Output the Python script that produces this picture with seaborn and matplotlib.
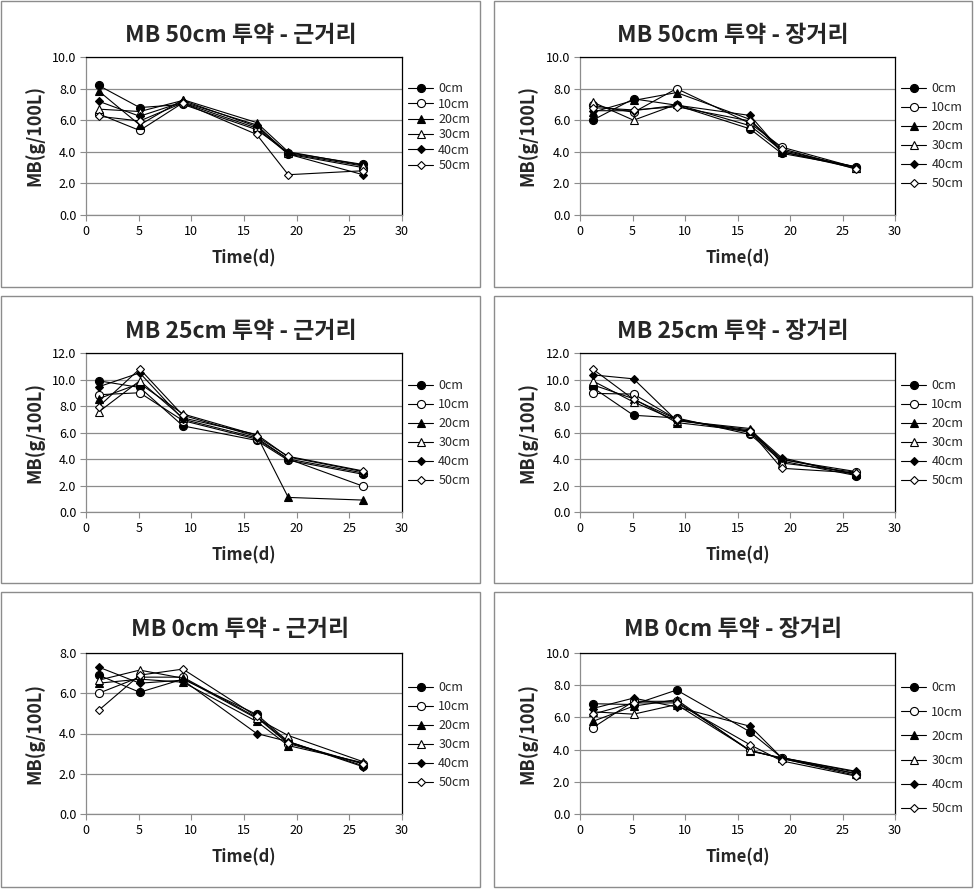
import numpy as np
import pandas as pd
import matplotlib
matplotlib.use("Agg")
import matplotlib.pyplot as plt
import seaborn as sns
from matplotlib.patches import Rectangle
from matplotlib.lines import Line2D

sns.set_theme(style="white")
plt.rcParams['font.family'] = ['Noto Sans CJK KR', 'DejaVu Sans']

days = [1.2, 5.1, 9.2, 16.2, 19.2, 26.3]
depths = ['0cm', '10cm', '20cm', '30cm', '40cm', '50cm']

mb50_near = {
    '0cm':  [8.2, 6.8, 7.0, 5.4, 3.95, 3.2],
    '10cm': [6.4, 5.35, 7.1, 5.5, 3.85, 3.0],
    '20cm': [7.85, 5.7, 7.3, 5.85, 4.0, 3.15],
    '30cm': [6.7, 6.55, 7.25, 5.6, 3.9, 3.1],
    '40cm': [7.2, 6.25, 7.15, 5.7, 3.85, 2.55],
    '50cm': [6.25, 5.95, 7.1, 5.1, 2.55, 2.8],
}
mb50_far = {
    '0cm':  [6.0, 7.35, 6.95, 5.45, 3.9, 3.05],
    '10cm': [6.95, 6.5, 8.0, 5.8, 4.3, 3.0],
    '20cm': [6.5, 7.25, 7.75, 6.05, 4.0, 2.95],
    '30cm': [7.15, 6.0, 7.0, 5.65, 4.1, 3.0],
    '40cm': [6.6, 6.6, 6.95, 6.3, 4.0, 3.05],
    '50cm': [6.8, 6.65, 6.85, 5.95, 4.2, 2.9],
}
mb25_near = {
    '0cm':  [9.9, 9.4, 6.5, 5.4, 3.9, 2.85],
    '10cm': [8.85, 9.0, 6.9, 5.5, 4.0, 1.95],
    '20cm': [8.55, 9.7, 7.4, 5.8, 1.1, 0.9],
    '30cm': [7.55, 9.9, 7.1, 5.85, 4.15, 3.05],
    '40cm': [9.45, 10.5, 7.0, 5.6, 4.0, 2.95],
    '50cm': [7.95, 10.8, 7.3, 5.7, 4.2, 3.1],
}
mb25_far = {
    '0cm':  [9.4, 7.3, 7.1, 5.85, 3.85, 2.75],
    '10cm': [8.95, 8.9, 7.0, 6.0, 3.95, 3.05],
    '20cm': [9.6, 8.55, 6.75, 6.1, 4.0, 2.85],
    '30cm': [9.9, 8.3, 6.9, 6.3, 3.7, 3.0],
    '40cm': [10.35, 10.05, 6.9, 6.2, 4.1, 2.8],
    '50cm': [10.8, 8.5, 7.0, 6.1, 3.3, 2.95],
}
mb0_near = {
    '0cm':  [6.9, 6.05, 6.7, 4.95, 3.6, 2.4],
    '10cm': [6.0, 6.8, 6.8, 4.8, 3.5, 2.5],
    '20cm': [6.5, 6.7, 6.55, 4.6, 3.4, 2.55],
    '30cm': [6.65, 7.15, 6.75, 4.75, 3.9, 2.6],
    '40cm': [7.3, 6.5, 6.65, 4.0, 3.6, 2.35],
    '50cm': [5.15, 6.9, 7.2, 4.85, 3.55, 2.5],
}
mb0_far = {
    '0cm':  [6.85, 6.8, 7.7, 5.1, 3.5, 2.5],
    '10cm': [5.35, 7.0, 7.0, 3.95, 3.45, 2.4],
    '20cm': [5.75, 6.7, 7.1, 3.9, 3.5, 2.6],
    '30cm': [6.35, 6.2, 6.8, 3.95, 3.45, 2.5],
    '40cm': [6.55, 7.2, 6.65, 5.45, 3.5, 2.65],
    '50cm': [6.2, 6.9, 6.9, 4.3, 3.3, 2.35],
}

titles = ['MB 50cm 투약 - 근거리', 'MB 50cm 투약 - 장거리',
          'MB 25cm 투약 - 근거리', 'MB 25cm 투약 - 장거리',
          'MB 0cm 투약 - 근거리', 'MB 0cm 투약 - 장거리']
datasets = [mb50_near, mb50_far, mb25_near, mb25_far, mb0_near, mb0_far]
ymaxes = [10, 10, 12, 12, 8, 10]

# marker styles per depth: (marker, facecolor, size)
mstyle = {
    '0cm': ('o', 'black', 5.8),
    '10cm': ('o', 'white', 5.8),
    '20cm': ('^', 'black', 5.8),
    '30cm': ('^', 'white', 5.8),
    '40cm': ('D', 'black', 4.2),
    '50cm': ('D', 'white', 4.2),
}

W, H = 974, 889
fig = plt.figure(figsize=(W / 100, H / 100), dpi=100)

# pixel layout
col_axes_x = [(86, 402), (580, 895)]
row_axes_y = [(57, 215), (353, 512), (653, 814), ]
box_x = [(1, 480), (494, 972)]
box_y = [(1, 287), (296, 583), (592, 887)]
title_y = [35, 331, 629]
xlabel_y = [258, 555, 857]
legend_spacing = [0.19, 0.48, 0.48, 0.48, 0.48, 0.9]
legend_top = [81, 81, 378, 378, 680, 680]

def fx(px):
    return px / W

def fy(py):
    return 1 - py / H

for i, data in enumerate(datasets):
    r, c = divmod(i, 2)
    # panel border
    bx0, bx1 = box_x[c]
    by0, by1 = box_y[r]
    fig.patches.append(Rectangle((fx(bx0), fy(by1)), fx(bx1 - bx0), (by1 - by0) / H,
                                 transform=fig.transFigure, fill=False,
                                 edgecolor='#8c8c8c', linewidth=1.0, zorder=0))
    ax0, ax1 = col_axes_x[c]
    ay0, ay1 = row_axes_y[r]
    ax = fig.add_axes([fx(ax0), fy(ay1), fx(ax1 - ax0), (ay1 - ay0) / H])

    df = pd.DataFrame({
        'Time': np.tile(days, len(depths)),
        'MB': np.concatenate([data[d] for d in depths]),
        'Depth': np.repeat(depths, len(days)),
    })
    for d in depths:
        m, fc, ms = mstyle[d]
        sub = df[df['Depth'] == d]
        sns.lineplot(data=sub, x='Time', y='MB', ax=ax, color='black', linewidth=0.8,
                     marker=m, markerfacecolor=fc, markeredgecolor='black',
                     markersize=ms, markeredgewidth=0.8, label=d, legend=False,
                     estimator=None, sort=False)

    ymax = ymaxes[i]
    ax.set_xlim(0, 30)
    ax.set_ylim(0, ymax)
    ax.set_xticks(range(0, 31, 5))
    ax.set_yticks(np.arange(0, ymax + 0.01, 2))
    ax.set_yticklabels([f'{v:.1f}' for v in np.arange(0, ymax + 0.01, 2)])
    ax.yaxis.grid(True, color='#8c8c8c', linewidth=0.9)
    ax.xaxis.grid(False)
    ax.set_axisbelow(True)
    for s in ['top', 'right']:
        ax.spines[s].set_color('black')
        ax.spines[s].set_linewidth(0.9)
    for s in ['left', 'bottom']:
        ax.spines[s].set_color('#8c8c8c')
        ax.spines[s].set_linewidth(0.9)
    ax.tick_params(axis='both', which='major', direction='out', length=4, width=0.8,
                   color='#8c8c8c', labelsize=9, labelcolor='black', pad=3,
                   left=True, bottom=True)
    ax.set_xlabel('')
    ax.set_ylabel('')

    # labels
    fig.text(fx((bx0 + bx1) / 2), fy(title_y[r]), titles[i], ha='center', va='center',
             fontsize=16.5, fontweight='bold')
    fig.text(fx((ax0 + ax1) / 2), fy(xlabel_y[r]), 'Time(d)', ha='center', va='center',
             fontsize=12, fontweight='bold')
    fig.text(fx(bx0 + 33), fy((ay0 + ay1) / 2), 'MB(g/100L)', ha='center', va='center',
             rotation=90, fontsize=13, fontweight='bold')

    handles = [Line2D([0], [0], color='black', linewidth=0.8, marker=mstyle[d][0],
                      markerfacecolor=mstyle[d][1], markeredgecolor='black',
                      markersize=mstyle[d][2], markeredgewidth=0.8) for d in depths]
    fig.legend(handles, depths, loc='upper left',
               bbox_to_anchor=(fx(ax1 + 5), fy(legend_top[i])),
               bbox_transform=fig.transFigure, frameon=False, fontsize=9,
               handlelength=2.0, handletextpad=0.4, labelspacing=legend_spacing[i],
               borderpad=0.1, borderaxespad=0.0)

fig.savefig('out.png', dpi=100)
